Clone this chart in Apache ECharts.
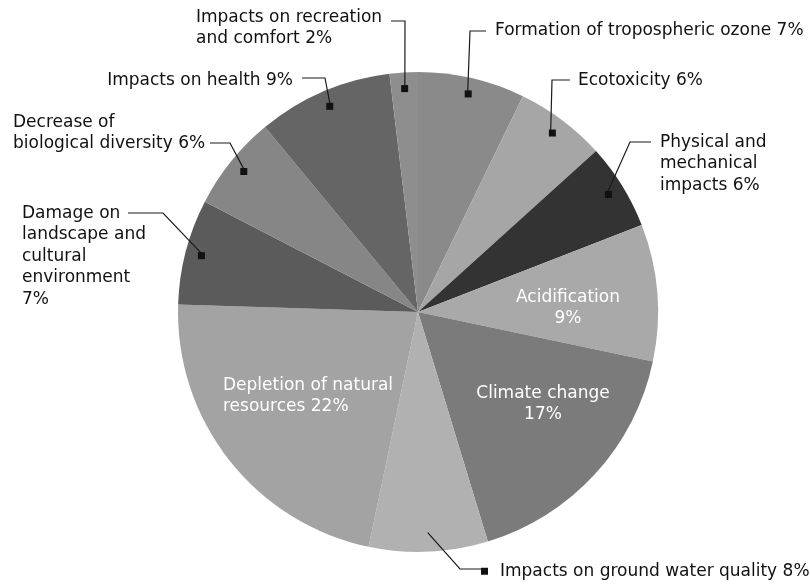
<!DOCTYPE html>
<html><head><meta charset="utf-8">
<script src="https://cdn.jsdelivr.net/npm/echarts@6/dist/echarts.min.js"></script>
<style>html,body{margin:0;padding:0;background:#fff}#c{width:810px;height:585px}</style>
</head><body><div id="c"></div>
<script>
// ---- data ----
const categories = [
  'Formation of tropospheric ozone',
  'Ecotoxicity',
  'Physical and mechanical impacts',
  'Acidification',
  'Climate change',
  'Impacts on ground water quality',
  'Depletion of natural resources',
  'Damage on landscape and cultural environment',
  'Decrease of biological diversity',
  'Impacts on health',
  'Impacts on recreation and comfort'
];
const values = [7.2, 6.1, 5.8, 9.2, 17.0, 8.0, 22.2, 7.1, 6.4, 9.1, 1.9];
const labelTexts = [
  'Formation of tropospheric ozone 7%',
  'Ecotoxicity 6%',
  'Physical and\nmechanical\nimpacts 6%',
  'Acidification\n9%',
  'Climate change\n17%',
  'Impacts on ground water quality 8%',
  'Depletion of natural\nresources 22%',
  'Damage on\nlandscape and\ncultural\nenvironment\n7%',
  'Decrease of\nbiological diversity 6%',
  'Impacts on health 9%',
  'Impacts on recreation\nand comfort 2%'
];

// ---- style / layout ----
const COLORS = ['#8a8a8a','#a6a6a6','#333333','#a9a9a9','#7b7b7b','#b1b1b1','#a3a3a3','#5b5b5b','#868686','#656565','#8e8e8e'];
const CX = 418, CY = 312, R = 240, MARK_K = 0.92;
const FONT = 'DejaVu Sans';
const LAYOUT = [
  {x:495, y:19.5, align:'left', line:[[470,31],[486,31]]},
  {x:578, y:69.5, align:'left', line:[[552,80],[570,80]]},
  {x:660, y:131.5, align:'left', line:[[630,142],[651,142]]},
  {x:568, y:286.5, align:'center', inside:true},
  {x:543, y:382.5, align:'center', inside:true},
  {x:481, y:560.5, align:'left', line:[[460,569],[482,569]], tail:true},
  {x:223, y:374.5, align:'left', inside:true},
  {x:22, y:202.5, align:'left', line:[[163,213],[128,213]]},
  {x:13, y:111.5, align:'left', line:[[230,143],[210,143]]},
  {x:293, y:69.5, align:'right', line:[[325,78],[302,78]]},
  {x:196, y:6.5, align:'left', line:[[405,21],[391,21]]}
];

const total = values.reduce((a, b) => a + b, 0);
function midAngle(i) {
  let c = 0;
  for (let k = 0; k < i; k++) c += values[k];
  return (c + values[i] / 2) / total * 2 * Math.PI;
}
function innerPoint(i) {
  const a = midAngle(i);
  return [CX + R * MARK_K * Math.sin(a), CY - R * MARK_K * Math.cos(a)];
}

const sectorData = categories.map((name, i) => ({
  name: name, value: values[i], itemStyle: {color: COLORS[i]}
}));

const labelData = categories.map((name, i) => {
  const L = LAYOUT[i];
  return {
    name: name,
    value: values[i],
    label: {
      position: L.inside ? 'inside' : 'outside',
      color: L.inside ? '#ffffff' : '#111111',
      formatter: L.tail ? '{m|}{s|}' + labelTexts[i] : labelTexts[i]
    },
    labelLine: {show: !L.inside}
  };
});

const markerData = categories.map((name, i) => ({
  name: name,
  value: values[i],
  label: {show: !LAYOUT[i].tail && !LAYOUT[i].inside}
}));

const common = {
  type: 'pie', center: [CX, CY], startAngle: 90, clockwise: true,
  silent: true, emphasis: {disabled: true}, avoidLabelOverlap: false
};

const chart = echarts.init(document.getElementById('c'), null, {renderer: 'canvas'});
chart.setOption({
  animation: false,
  backgroundColor: '#ffffff',
  series: [
    Object.assign({}, common, {
      radius: R, z: 2,
      itemStyle: {borderWidth: 0},
      label: {show: false}, labelLine: {show: false},
      data: sectorData
    }),
    Object.assign({}, common, {
      radius: R, z: 4,
      itemStyle: {color: 'rgba(0,0,0,0)', borderWidth: 0},
      label: {
        show: true,
        fontFamily: FONT,
        fontSize: 17,
        lineHeight: 21.5,
        rich: {
          m: {width: 7, height: 7, backgroundColor: '#111111'},
          s: {width: 12}
        }
      },
      labelLine: {show: true, length: 10, length2: 10, lineStyle: {color: '#1a1a1a', width: 1.2}},
      labelLayout: function (params) {
        const L = LAYOUT[params.dataIndex];
        const res = {x: L.x, y: L.y, align: L.align, verticalAlign: 'top'};
        if (L.line) {
          res.labelLinePoints = [innerPoint(params.dataIndex), L.line[0], L.line[1]];
        }
        return res;
      },
      data: labelData
    }),
    Object.assign({}, common, {
      radius: [R * MARK_K - 15, R * MARK_K + 15], z: 6,
      itemStyle: {color: 'rgba(0,0,0,0)', borderWidth: 0},
      label: {
        show: true,
        position: 'inside',
        formatter: '{m| }',
        rich: {m: {width: 7, height: 7, fontSize: 1, lineHeight: 7, backgroundColor: '#111111'}}
      },
      labelLine: {show: false},
      data: markerData
    })
  ]
});
</script>
</body></html>
